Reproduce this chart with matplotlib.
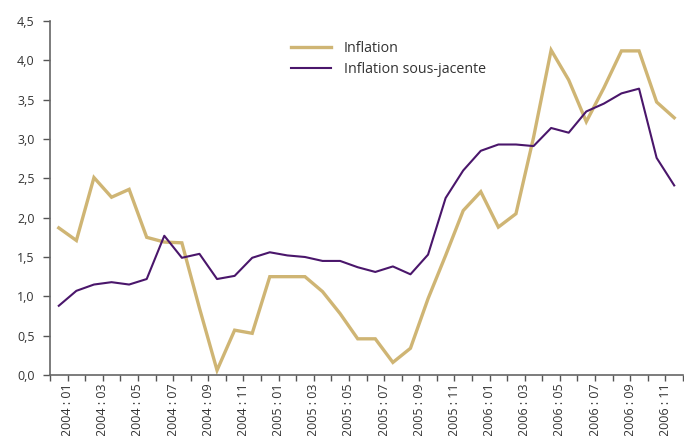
import matplotlib.pyplot as plt

# --------- data --------- #
months = [f'{y} : {m:02d}' for y in (2004, 2005, 2006) for m in range(1, 13)]

inflation = [1.87, 1.71, 2.51, 2.26, 2.36, 1.75, 1.69, 1.68, 0.85, 0.06, 0.57, 0.53,
             1.25, 1.25, 1.25, 1.06, 0.78, 0.46, 0.46, 0.16, 0.34, 0.97, 1.52, 2.09,
             2.33, 1.88, 2.05, 3.02, 4.13, 3.75, 3.22, 3.65, 4.12, 4.12, 3.47, 3.27]

core = [0.88, 1.07, 1.15, 1.18, 1.15, 1.22, 1.77, 1.49, 1.54, 1.22, 1.26, 1.49,
        1.56, 1.52, 1.50, 1.45, 1.45, 1.37, 1.31, 1.38, 1.28, 1.53, 2.25, 2.60,
        2.85, 2.93, 2.93, 2.91, 3.14, 3.08, 3.35, 3.45, 3.58, 3.64, 2.76, 2.41]

plt.rcParams['font.family'] = ['Open Sans', 'DejaVu Sans']

fig = plt.figure(figsize=(6.84, 4.36), dpi=100)
ax = fig.add_axes([50 / 684, 61 / 436, 633 / 684, 354 / 436])

x = range(len(months))
ax.plot(x, inflation, color='#CFB574', lw=2.4, label='Inflation', solid_joinstyle='miter')
ax.plot(x, core, color='#4A166B', lw=1.5, label='Inflation sous-jacente')

ax.set_ylim(0, 4.5)
ax.set_xlim(-0.5, len(months) - 0.5)
ax.set_yticks([i * 0.5 for i in range(10)])
ax.set_yticklabels([f'{i * 0.5:.1f}'.replace('.', ',') for i in range(10)])

# tick marks on category boundaries, labels every other month
ax.xaxis.remove_overlapping_locs = False
ax.set_xticks([i - 0.5 for i in range(len(months) + 1)])
ax.set_xticklabels([])
ax.set_xticks([i + 0.5 for i in range(0, len(months), 2)], minor=True)
ax.set_xticklabels(months[::2], minor=True, rotation=90, va='top', ha='center')
ax.tick_params(axis='x', which='minor', length=0, pad=6)
ax.tick_params(axis='x', which='major', length=4, width=1, color='#555555')
ax.tick_params(axis='y', length=5, width=1, color='#555555', pad=6)
ax.tick_params(which='both', labelsize=9, labelcolor='#333333')

for s in ('top', 'right'):
    ax.spines[s].set_visible(False)
for s in ('left', 'bottom'):
    ax.spines[s].set_color('#666666')
    ax.spines[s].set_linewidth(1.2)

ax.legend(loc='upper left', bbox_to_anchor=(0.36, 0.98), frameon=False,
          fontsize=10.3, handlelength=2.8, handletextpad=0.9, labelspacing=0.4,
          labelcolor='#333333')

fig.savefig('out.png', dpi=100)
